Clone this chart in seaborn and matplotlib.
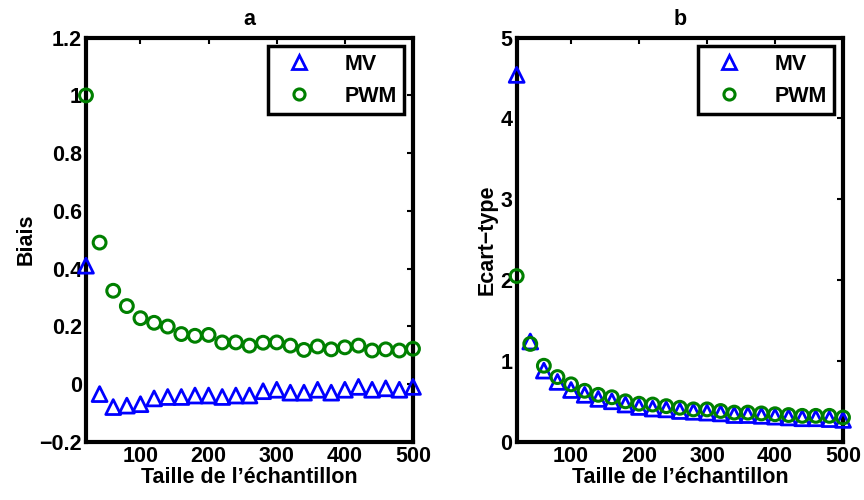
import numpy as np
import pandas as pd
import matplotlib
matplotlib.use("Agg")
import matplotlib.pyplot as plt
import seaborn as sns
from matplotlib.lines import Line2D

sns.set_style("white")
plt.rcParams['font.family'] = ['Liberation Sans', 'DejaVu Sans']
plt.rcParams['font.weight'] = 'bold'
plt.rcParams['text.color'] = 'black'
plt.rcParams['axes.labelcolor'] = 'black'
plt.rcParams['xtick.color'] = 'black'
plt.rcParams['ytick.color'] = 'black'

n = list(range(20, 520, 20))

biais_mv = [0.41, -0.035, -0.08, -0.075, -0.07, -0.05, -0.045, -0.045, -0.04, -0.04,
            -0.045, -0.04, -0.04, -0.025, -0.02, -0.03, -0.03, -0.02, -0.03, -0.02,
            -0.01, -0.02, -0.015, -0.02, -0.01]
biais_pwm = [1.0, 0.49, 0.323, 0.27, 0.228, 0.212, 0.199, 0.173, 0.167, 0.17,
             0.144, 0.144, 0.133, 0.143, 0.144, 0.133, 0.118, 0.13, 0.12, 0.127,
             0.133, 0.116, 0.12, 0.116, 0.122]
ecart_mv = [4.54, 1.24, 0.88, 0.74, 0.64, 0.58, 0.53, 0.50, 0.46, 0.43,
            0.41, 0.40, 0.38, 0.37, 0.36, 0.35, 0.33, 0.33, 0.32, 0.31,
            0.30, 0.29, 0.29, 0.28, 0.27]
ecart_pwm = [2.05, 1.21, 0.94, 0.80, 0.71, 0.63, 0.58, 0.55, 0.50, 0.47,
             0.46, 0.44, 0.42, 0.40, 0.40, 0.38, 0.36, 0.36, 0.35, 0.34,
             0.33, 0.32, 0.32, 0.32, 0.30]

blue = '#0000ff'
green = '#008000'
fs = 15.5

fig = plt.figure(figsize=(8.64, 5), dpi=100)
ax1 = fig.add_axes([0.0995, 0.1166, 0.3785, 0.808])
ax2 = fig.add_axes([0.598, 0.1166, 0.3777, 0.808])


def draw(ax, mv, pwm, ylab, title, ylim, yticks, ylabels):
    sns.scatterplot(x=n, y=mv, ax=ax, marker='^', s=115, facecolor='none',
                    edgecolor=blue, linewidth=2, zorder=3, clip_on=False)
    sns.scatterplot(x=n, y=pwm, ax=ax, marker='o', s=85, facecolor='none',
                    edgecolor=green, linewidth=2.2, zorder=4, clip_on=False)
    ax.set_xlim(20, 500)
    ax.set_ylim(*ylim)
    ax.set_xticks([100, 200, 300, 400, 500])
    ax.set_yticks(yticks)
    ax.set_yticklabels(ylabels)
    ax.tick_params(direction='in', length=4, width=1.5, top=True, right=True,
                   labelsize=fs, pad=3)
    for lab in ax.get_xticklabels() + ax.get_yticklabels():
        lab.set_fontweight('bold')
    for sp in ax.spines.values():
        sp.set_linewidth(3)
        sp.set_color('black')
        sp.set_zorder(2)
    ax.set_xlabel("Taille de l\u2019\u00e9chantillon", fontsize=fs, fontweight='bold', labelpad=0)
    ax.set_ylabel(ylab, fontsize=fs, fontweight='bold', labelpad=2)
    ax.set_title(title, fontsize=fs, fontweight='bold', pad=9)
    handles = [
        Line2D([], [], linestyle='', marker='^', markersize=10, markerfacecolor='none',
               markeredgecolor=blue, markeredgewidth=2),
        Line2D([], [], linestyle='', marker='o', markersize=8, markerfacecolor='none',
               markeredgecolor=green, markeredgewidth=2.2),
    ]
    leg = ax.legend(handles, ['MV', 'PWM'], loc='upper right', fancybox=False,
                    frameon=True, framealpha=1, prop={'size': fs, 'weight': 'bold'},
                    borderaxespad=0.4, handletextpad=1.0, borderpad=0.35,
                    labelspacing=0.5, handlelength=2.2)
    leg.get_frame().set_edgecolor('black')
    leg.get_frame().set_linewidth(2.5)


draw(ax1, biais_mv, biais_pwm, 'Biais', 'a', (-0.2, 1.2),
     [-0.2, 0, 0.2, 0.4, 0.6, 0.8, 1.0, 1.2],
     ['\u22120.2', '0', '0.2', '0.4', '0.6', '0.8', '1', '1.2'])
draw(ax2, ecart_mv, ecart_pwm, 'Ecart\u2212type', 'b', (0, 5),
     [0, 1, 2, 3, 4, 5], ['0', '1', '2', '3', '4', '5'])

fig.savefig('out.png', dpi=100)
